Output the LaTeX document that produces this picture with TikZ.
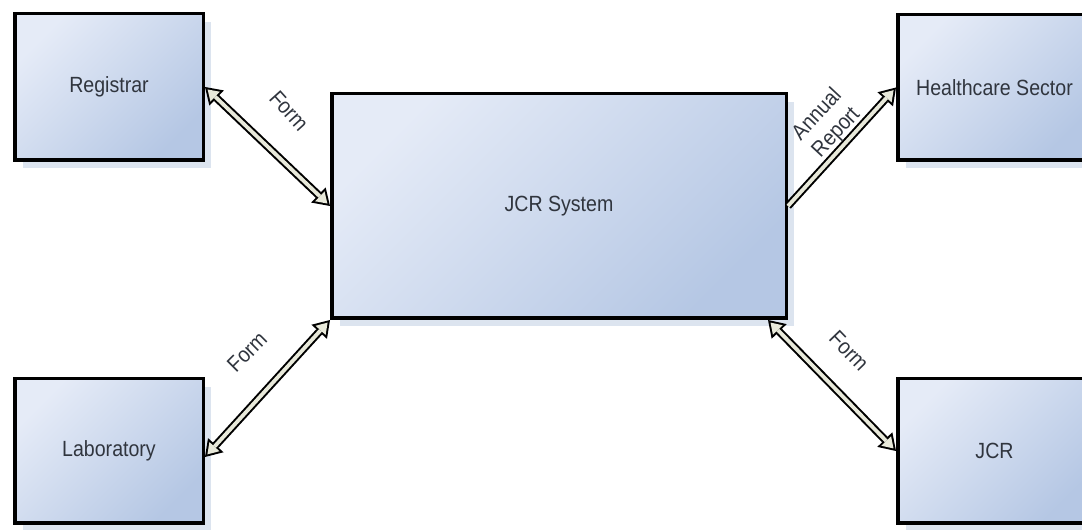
\documentclass[tikz,border=0pt]{standalone}
\usepackage{fontspec}
\setmainfont{Liberation Sans}
\newfontfamily\narrowsans[FakeStretch=0.89]{Liberation Sans}
\usetikzlibrary{arrows.meta,shadows}

\definecolor{boxtop}{HTML}{E5EBF7}
\definecolor{boxbottom}{HTML}{B5C7E4}
\definecolor{boxshade}{HTML}{DCE4EF}
\definecolor{ink}{HTML}{30353E}
\definecolor{pipefill}{HTML}{E8E9DA}

\tikzset{
  entity/.style={draw=black, line width=3.5pt, inner sep=0pt,
    top color=boxtop, bottom color=boxbottom, shading angle=45,
    general shadow={shadow xshift=8pt, shadow yshift=-8pt, fill=boxshade},
    text=ink, font=\narrowsans\fontsize{22}{26}\selectfont},
  flow/.style={text=ink, inner sep=1pt, font=\narrowsans\fontsize{22}{26}\selectfont},
  pipe/.style={line width=7.8pt, draw=black},
  pipecore/.style={line width=3.8pt, draw=pipefill},
  outertip/.tip={Triangle[length=16pt, width=21pt, line width=0pt]},
  innertip/.tip={Triangle[length=10.4pt, width=13.6pt, line width=0pt]},
}

\begin{document}
\begin{tikzpicture}[x=1pt, y=1pt]
  \clip (0,0) rectangle (1082,530);

  % external entities and the central system
  \node[entity, minimum width=188.5pt, minimum height=146.5pt] (reg) at (109,443) {Registrar};
  \node[entity, minimum width=188.5pt, minimum height=144.5pt] (lab) at (109,79) {Laboratory};
  \node[entity, minimum width=193.5pt, minimum height=145.5pt] (hc) at (994.5,442.5) {Healthcare Sector};
  \node[entity, minimum width=193.5pt, minimum height=144.5pt] (jcr) at (994.5,79) {JCR};
  \node[entity, minimum width=454.5pt, minimum height=224.5pt] (sys) at (559,324) {JCR System};

  \coordinate (sysjcr) at ([xshift=-20pt]sys.south east);
  \coordinate (labout) at ([yshift=-6pt]lab.east);

  % hollow data-flow arrows: black body, light core on top
  \draw[pipe, outertip-outertip] (reg.east) -- (sys.west);
  \draw[pipecore, shorten <=3.6pt, shorten >=3.6pt, innertip-innertip] (reg.east) -- (sys.west);

  \draw[pipe, outertip-outertip] (labout) -- (sys.south west);
  \draw[pipecore, shorten <=3.6pt, shorten >=3.6pt, innertip-innertip] (labout) -- (sys.south west);

  \draw[pipe, -outertip] (sys.east) -- (hc.west);
  \draw[pipecore, shorten >=3.6pt, -innertip] (sys.east) -- (hc.west);

  \draw[pipe, outertip-outertip] (sysjcr) -- (jcr.west);
  \draw[pipecore, shorten <=3.6pt, shorten >=3.6pt, innertip-innertip] (sysjcr) -- (jcr.west);

  % flow labels
  \node[flow, rotate=-48] (f1) at (289,419) {Form};
  \node[flow, rotate=45] (f2) at (247,178) {Form};
  \node[flow, rotate=-46] (f3) at (849,179) {Form};
  \node[flow, rotate=47, align=center] (f4) at (827,406) {Annual\\Report};
\end{tikzpicture}
\end{document}
